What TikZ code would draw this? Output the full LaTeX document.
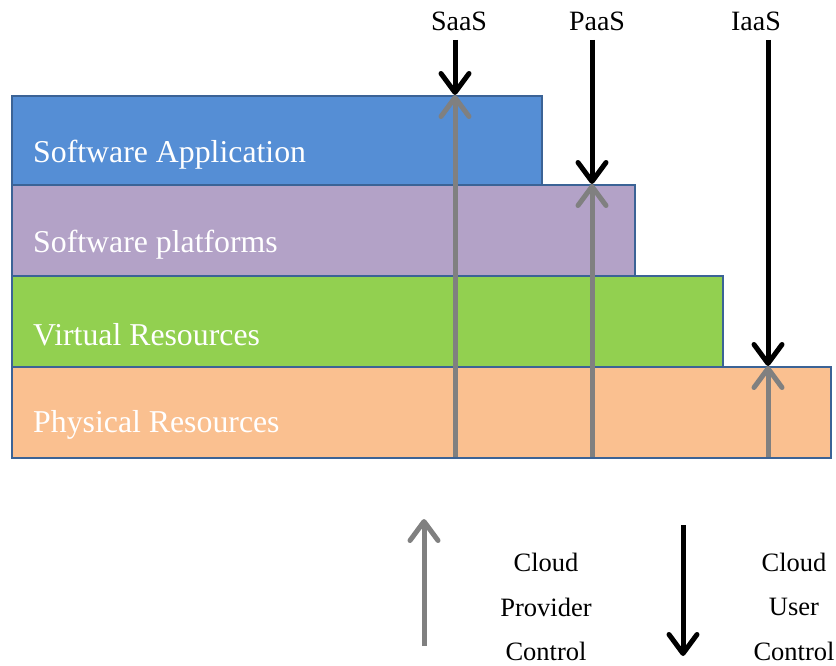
\documentclass[tikz,border=0pt]{standalone}
\usepackage{fontspec}
\setmainfont{Liberation Serif}
\usetikzlibrary{arrows.meta}
\definecolor{appblue}{HTML}{558ED5}
\definecolor{platpurple}{HTML}{B3A2C7}
\definecolor{virtgreen}{HTML}{92D050}
\definecolor{physorange}{HTML}{FAC090}
\definecolor{edgeblue}{HTML}{3B6396}
\definecolor{provgray}{HTML}{808080}
\tikzset{
  layer/.style={draw=edgeblue, line width=1.6pt, inner sep=0pt, anchor=north west},
  layertext/.style={anchor=west, text=white, font=\fontsize{31.8}{36}\selectfont, inner sep=0pt},
  toplabel/.style={font=\fontsize{28}{32}\selectfont, inner sep=0pt},
  legendtext/.style={font=\fontsize{26.5}{30}\selectfont, inner sep=0pt},
  barb/.style={-{Straight Barb[length=19pt,width=28pt,line width=5pt,round]}},
  useraro/.style={draw=black, line width=5pt, barb},
  provaro/.style={draw=provgray, line width=5pt, barb}
}
\begin{document}
\begin{tikzpicture}[x=1pt,y=-1pt]
\useasboundingbox (0,0) rectangle (836,666);
% service layers
\node[layer, fill=physorange, minimum width=819pt, minimum height=91pt] (phys) at (11,366) {};
\node[layer, fill=virtgreen, minimum width=711pt, minimum height=91pt] (virt) at (11,275) {};
\node[layer, fill=platpurple, minimum width=623pt, minimum height=91pt] (plat) at (11,184) {};
\node[layer, fill=appblue, minimum width=530pt, minimum height=89pt] (app) at (11,95) {};
\node[layertext] (tapp) at (33,155) {Software Application};
\node[layertext] (tplat) at (33,245) {Software platforms};
\node[layertext] (tvirt) at (33,335) {Virtual Resources};
\node[layertext] (tphys) at (33,425) {Physical Resources};
% service model labels
\node[toplabel] (saas) at (459,21) {SaaS};
\node[toplabel] (paas) at (597,21) {PaaS};
\node[toplabel] (iaas) at (756,21) {IaaS};
% arrow end points
\coordinate (sTop) at (455,40);
\coordinate (pTop) at (592,40);
\coordinate (iTop) at (768,40);
\coordinate (sBot) at (455,457);
\coordinate (pBot) at (592,457);
\coordinate (iBot) at (768,457);
% provider control reaching up
\draw[provaro] (sBot) -- (sBot |- app.north);
\draw[provaro] (pBot) -- (pBot |- plat.north);
\draw[provaro] (iBot) -- (iBot |- phys.north);
% user control reaching down
\draw[useraro] (sTop) -- (sTop |- app.north);
\draw[useraro] (pTop) -- (pTop |- plat.north);
\draw[useraro] (iTop) -- (iTop |- phys.north);
% legend
\coordinate (lgA) at (424,646);
\coordinate (lgB) at (424,519);
\coordinate (lkA) at (683,525);
\coordinate (lkB) at (683,656);
\draw[provaro] (lgA) -- (lgB);
\draw[useraro] (lkA) -- (lkB);
\node[legendtext] (c1) at (546,562) {Cloud};
\node[legendtext] (c2) at (546,607) {Provider};
\node[legendtext] (c3) at (546,651) {Control};
\node[legendtext] (u1) at (794,562) {Cloud};
\node[legendtext] (u2) at (794,607) {User};
\node[legendtext] (u3) at (794,651) {Control};
\end{tikzpicture}
\end{document}
